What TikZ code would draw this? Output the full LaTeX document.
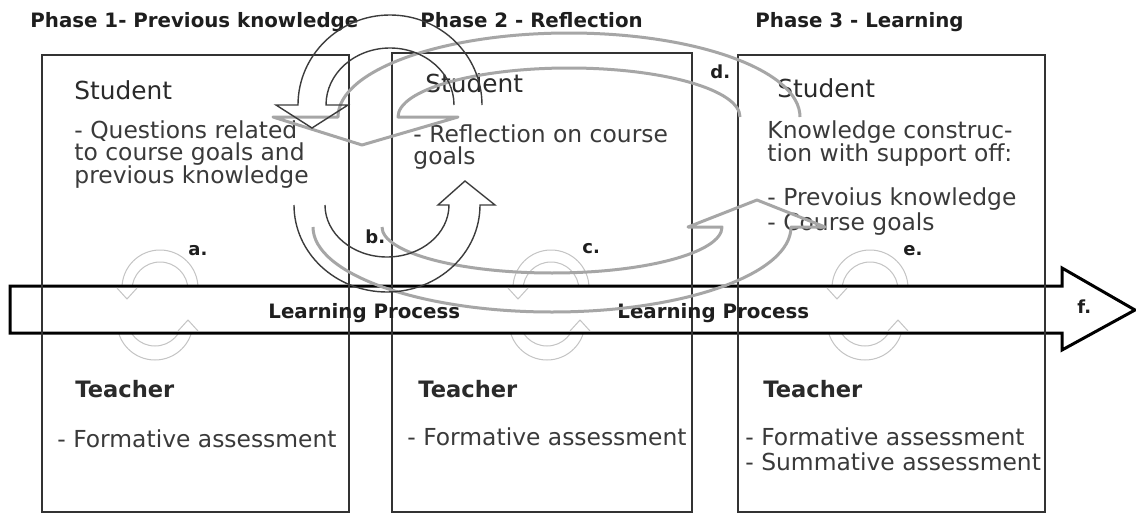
\documentclass[tikz,border=0pt]{standalone}
\usepackage{fontspec}
\setmainfont{DejaVu Sans}
\definecolor{headgray}{HTML}{1E1E1E}
\definecolor{stugray}{HTML}{2A2A2A}
\definecolor{bodygray}{HTML}{3A3A3A}
\definecolor{boxline}{HTML}{333333}
\definecolor{darkarr}{HTML}{3C3C3C}
\definecolor{grayarr}{HTML}{A6A6A6}
\definecolor{ringcol}{HTML}{C4C4C4}
\tikzset{
  phase/.style={anchor=base west, inner sep=0pt, text=headgray, font=\bfseries\fontsize{9.9}{12}\selectfont},
  stud/.style={anchor=base west, inner sep=0pt, text=stugray, font=\fontsize{12.4}{14}\selectfont},
  teach/.style={anchor=base west, inner sep=0pt, text=stugray, font=\bfseries\fontsize{11.3}{14}\selectfont},
  body/.style={anchor=base west, inner sep=0pt, text=bodygray, font=\fontsize{11.7}{14}\selectfont},
  lbl/.style={anchor=base west, inner sep=0pt, text=headgray, font=\bfseries\fontsize{9}{10}\selectfont},
  lproc/.style={anchor=base west, inner sep=0pt, text=headgray, font=\bfseries\fontsize{9.9}{12}\selectfont},
  boxstyle/.style={draw=boxline, line width=0.75pt},
  band/.style={draw=black, line width=1.5pt, fill=white, line join=miter},
  darkarrow/.style={draw=darkarr, line width=0.7pt, line join=miter},
  grayarrow/.style={draw=grayarr, line width=1.5pt, line join=round},
  ringline/.style={draw=ringcol, line width=0.5pt},
}
\newcommand\ringarcs[2]{%
  \draw[ringline] ({#1+38},288) arc[radius=38, start angle=0, end angle=-180];
  \draw[ringline] ({#1+28},290) arc[radius=28, start angle=0, end angle=-180];
  \draw[ringline] ({#2-38},322) arc[radius=38, start angle=180, end angle=0];
  \draw[ringline] ({#2-28},318) arc[radius=28, start angle=180, end angle=0];
}
\newcommand\ringheads[2]{%
  \draw[ringline] ({#1-43},288) -- ({#1-33},299) -- ({#1-23},288);
  \draw[ringline] ({#2+23},331) -- ({#2+33},320) -- ({#2+43},331);
}
\begin{document}
\begin{tikzpicture}[x=0.5pt, y=-0.5pt]
\useasboundingbox (0,0) rectangle (1136,514);
\fill[white] (0,0) rectangle (1136,514);

% small cycle rings (behind the band)
\ringarcs{160}{155}
\ringarcs{551}{547}
\ringarcs{870}{865}

% learning process band arrow
\draw[band] (10,286) -- (1062,286) -- (1062,268) -- (1135,310) -- (1062,350) -- (1062,333) -- (10,333) -- cycle;
\ringheads{160}{155}
\ringheads{551}{547}
\ringheads{870}{865}

% phase boxes
\draw[boxstyle] (42,55) rectangle (349,512);
\draw[boxstyle] (392,53) rectangle (692,512);
\draw[boxstyle] (738,55) rectangle (1045,512);

% titles
\node[phase] (ph1) at (30,27) {Phase 1- Previous knowledge};
\node[phase] (ph2) at (420,27) {Phase 2 - Reflection};
\node[phase] (ph3) at (755,27) {Phase 3 - Learning};

% student texts
\node[stud] (s1) at (74,99) {Student};
\node[body] (q1) at (74,138) {- Questions related};
\node[body] (q2) at (74,160.5) {to course goals and};
\node[body] (q3) at (74,183) {previous knowledge};

\node[stud] (s2) at (425,92) {Student};
\node[body] (r1) at (413,142) {- Reflection on course};
\node[body] (r2) at (413,164) {goals};

\node[stud] (s3) at (777,97) {Student};
\node[body] (k1) at (767,138) {Knowledge construc-};
\node[body] (k2) at (767,161) {tion with support off:};
\node[body] (k3) at (767,205) {- Prevoius knowledge};
\node[body] (k4) at (767,230) {- Course goals};

% teacher texts
\node[teach] (t1) at (75,397) {Teacher};
\node[body] (f1) at (57,447) {- Formative assessment};
\node[teach] (t2) at (418,397) {Teacher};
\node[body] (f2) at (407,445) {- Formative assessment};
\node[teach] (t3) at (763,397) {Teacher};
\node[body] (f3) at (745,445) {- Formative assessment};
\node[body] (g3) at (745,470) {- Summative assessment};

% band labels
\node[lproc] (lp1) at (268,318) {Learning Process};
\node[lproc] (lp2) at (617,318) {Learning Process};

% letter labels
\node[lbl] (la) at (188,255) {a.};
\node[lbl] (lb) at (365,243) {b.};
\node[lbl] (lc) at (582,253) {c.};
\node[lbl] (ld) at (710,78) {d.};
\node[lbl] (le) at (903,255) {e.};
\node[lbl] (lf) at (1077,313) {f.};

% large gray cycle arrows
\draw[grayarrow] (800,117) arc[x radius=231, y radius=84, start angle=0, end angle=-180]
  -- (273,117) -- (362,145) -- (458,117) -- (398,117)
  arc[x radius=171, y radius=49, start angle=-180, end angle=0];
\draw[grayarrow] (313,227) arc[x radius=239, y radius=85, start angle=180, end angle=0]
  -- (825,227) -- (757,200) -- (688,227) -- (722,227)
  arc[x radius=170, y radius=46, start angle=0, end angle=180];

% dark cycle arrows
\draw[darkarrow] (482,105) arc[x radius=92, y radius=90, start angle=0, end angle=-180]
  -- (276,105) -- (312,128) -- (348,105) -- (326,105)
  arc[x radius=64, y radius=57, start angle=-180, end angle=0];
\draw[darkarrow] (294,205) arc[x radius=93, y radius=87, start angle=180, end angle=0]
  -- (495,205) -- (465,181) -- (438,205) -- (449,205)
  arc[x radius=62, y radius=52, start angle=0, end angle=180];
\end{tikzpicture}
\end{document}
